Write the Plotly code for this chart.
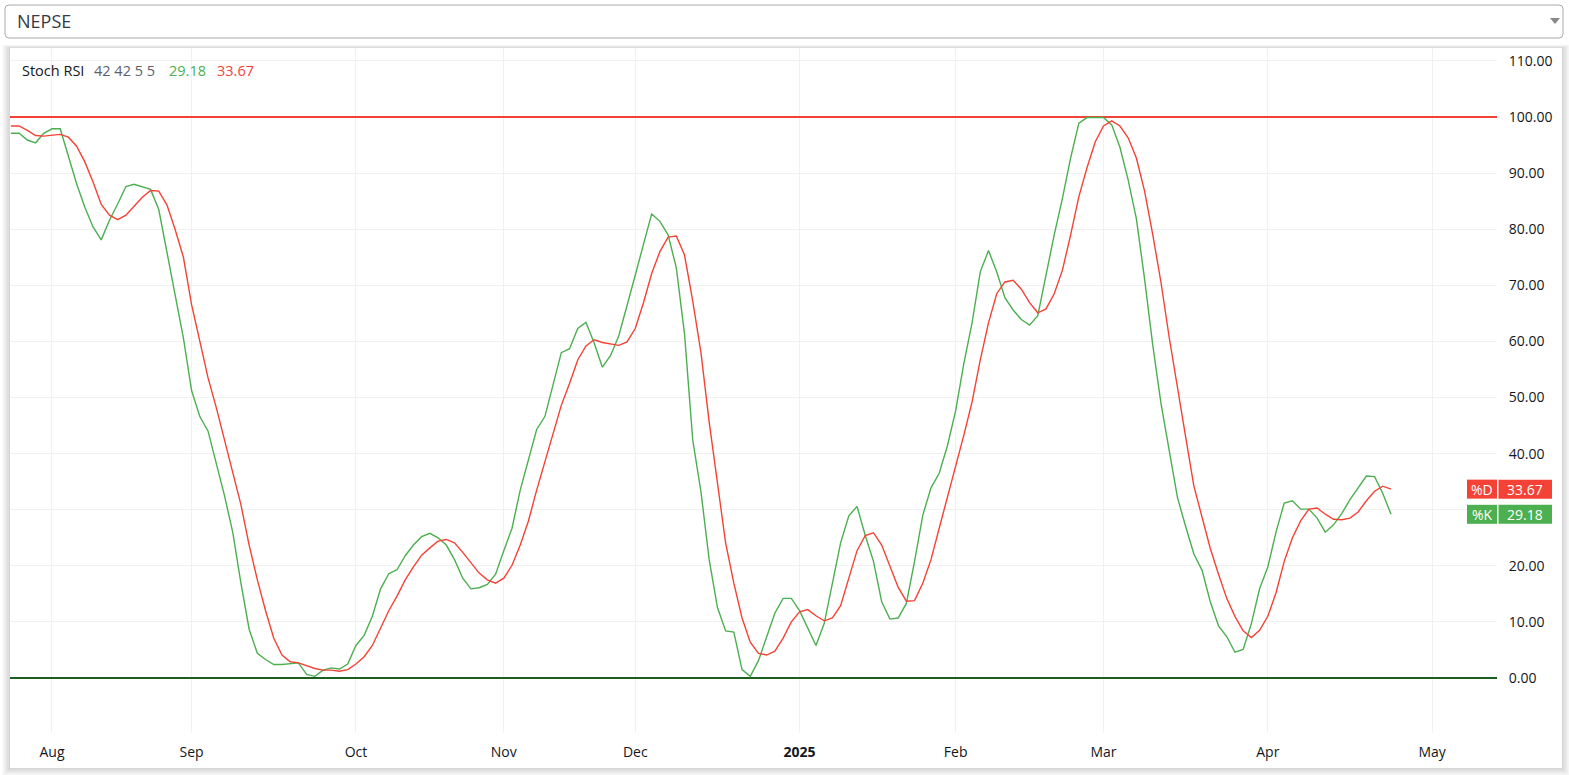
import plotly.graph_objects as go

# ---------------- data ----------------
symbol = "NEPSE"
indicator_name = "Stoch RSI"
indicator_params = "42 42 5 5"

k_values = [
    97.1, 97.1, 95.9, 95.4, 97.1, 97.9, 97.9, 93.0, 88.1, 83.9,
    80.4, 78.1, 81.6, 84.5, 87.6, 88.0, 87.5, 87.1, 83.5, 75.7,
    68.5, 60.6, 51.2, 46.6, 44.0, 38.4, 32.5, 26.0, 16.9, 8.7,
    4.4, 3.3, 2.4, 2.4, 2.5, 2.7, 0.65, 0.3, 1.4, 1.8,
    1.6, 2.5, 5.8, 7.6, 11.0, 15.9, 18.6, 19.3, 21.8, 23.7,
    25.2, 25.8, 25.0, 23.7, 21.1, 17.8, 15.9, 16.1, 16.7, 18.5,
    22.7, 26.7, 33.5, 39.1, 44.3, 46.6, 52.2, 58.0, 58.7, 62.3,
    63.4, 59.7, 55.4, 57.5, 61.0, 66.2, 71.8, 77.3, 82.7, 81.4,
    79.0, 73.1, 61.3, 42.4, 33.2, 21.1, 12.6, 8.4, 8.2, 1.5,
    0.3, 3.1, 7.4, 11.6, 14.2, 14.2, 12.0, 9.0, 5.8, 9.7,
    16.9, 24.1, 28.9, 30.6, 25.4, 20.8, 13.6, 10.5, 10.7, 13.3,
    20.8, 29.0, 33.9, 36.5, 41.4, 47.6, 56.1, 63.3, 72.4, 76.2,
    72.4, 67.8, 65.6, 63.9, 62.9, 64.6, 71.8, 79.0, 85.5, 92.7,
    98.9, 99.9, 99.9, 99.9, 98.6, 94.6, 88.8, 81.9, 71.1, 59.3,
    48.9, 40.4, 32.2, 27.0, 22.1, 19.2, 13.6, 9.3, 7.4, 4.6,
    5.1, 9.7, 15.9, 19.8, 26.0, 31.2, 31.6, 30.1, 30.1, 28.5,
    26.0, 27.3, 29.3, 31.8, 33.9, 36.0, 35.9, 32.9, 29.18,
]

d_values = [
    98.4, 98.4, 97.6, 96.7, 96.6, 96.7, 96.9, 96.4, 94.8, 92.0,
    88.4, 84.4, 82.5, 81.7, 82.5, 84.1, 85.7, 86.9, 86.8, 84.3,
    79.9, 75.0, 66.5, 60.0, 53.5, 48.2, 42.4, 36.5, 30.9, 23.7,
    17.5, 12.0, 7.1, 4.1, 2.9, 2.7, 2.2, 1.7, 1.4, 1.4,
    1.2, 1.5, 2.5, 3.8, 5.8, 9.0, 12.0, 14.6, 17.5, 19.8,
    21.9, 23.2, 24.4, 24.7, 24.1, 22.4, 20.5, 18.7, 17.5, 16.9,
    17.8, 20.1, 23.7, 28.0, 33.5, 38.4, 43.7, 48.6, 52.5, 56.7,
    59.2, 60.3, 59.8, 59.5, 59.3, 59.9, 62.3, 66.9, 72.1, 76.0,
    78.6, 78.8, 75.4, 67.2, 58.0, 45.6, 35.2, 24.1, 16.9, 10.7,
    6.4, 4.4, 4.1, 4.8, 7.1, 10.0, 11.8, 12.2, 11.1, 10.2,
    10.7, 12.9, 17.8, 22.7, 25.4, 25.9, 23.7, 20.1, 16.2, 13.7,
    13.8, 16.9, 21.1, 26.7, 32.2, 37.5, 43.3, 49.2, 56.7, 63.3,
    68.5, 70.6, 70.9, 69.3, 66.9, 65.1, 65.8, 68.5, 72.7, 79.0,
    85.8, 91.0, 95.6, 98.4, 99.3, 98.4, 96.3, 92.7, 86.8, 79.0,
    70.5, 60.7, 51.5, 43.0, 34.2, 28.6, 23.1, 18.5, 14.2, 11.0,
    8.4, 7.2, 8.5, 11.0, 15.2, 20.8, 25.0, 28.0, 30.1, 30.3,
    29.2, 28.3, 28.2, 28.5, 29.6, 31.6, 33.3, 34.2, 33.67,
]

month_labels = ["Aug", "Sep", "Oct", "Nov", "Dec", "<b>2025</b>", "Feb", "Mar", "Apr", "May"]
month_positions = [5, 22, 42, 60, 76, 96, 115, 133, 153, 173]

upper_band = 100
lower_band = 0
y_ticks = [0, 10, 20, 30, 40, 50, 60, 70, 80, 90, 100, 110]
hidden_ticks = [30]   # covered by the price-scale labels in the original

x_range = [-0.11, 180.9]
y_range = [-9.8, 112.3]

# ---------------- styling ----------------
GREEN = "#4CAF50"
RED = "#F44336"
DARK_GREEN = "#1B5E20"
GRID = "#F1F1F1"
TEXT = "#131722"
FONT = "Open Sans"

W, H = 1569, 775
L, R, T, B = 10, 1497, 48, 733   # plot area in pixels


def px(x):
    return (x - L) / (R - L)


def py(y):
    return (B - y) / (B - T)


def rrect(x0, y0, x1, y1, r):
    return (f"M {px(x0 + r)} {py(y0)} L {px(x1 - r)} {py(y0)} "
            f"Q {px(x1)} {py(y0)} {px(x1)} {py(y0 + r)} "
            f"L {px(x1)} {py(y1 - r)} Q {px(x1)} {py(y1)} {px(x1 - r)} {py(y1)} "
            f"L {px(x0 + r)} {py(y1)} Q {px(x0)} {py(y1)} {px(x0)} {py(y1 - r)} "
            f"L {px(x0)} {py(y0 + r)} Q {px(x0)} {py(y0)} {px(x0 + r)} {py(y0)} Z")


x_idx = list(range(len(k_values)))
y_ticktext = ["" if v in hidden_ticks else f"{v:.2f}" for v in y_ticks]

fig = go.Figure()
# band levels (drawn as traces so they sit above the gridlines)
fig.add_trace(go.Scatter(x=x_range, y=[upper_band, upper_band], mode="lines",
                         line=dict(color=RED, width=2), hoverinfo="skip", cliponaxis=False))
fig.add_trace(go.Scatter(x=x_range, y=[lower_band, lower_band], mode="lines",
                         line=dict(color=DARK_GREEN, width=2), hoverinfo="skip", cliponaxis=False))
fig.add_trace(go.Scatter(x=x_idx, y=k_values, mode="lines", name="%K",
                         line=dict(color=GREEN, width=1.4), hoverinfo="skip"))
fig.add_trace(go.Scatter(x=x_idx, y=d_values, mode="lines", name="%D",
                         line=dict(color=RED, width=1.4), hoverinfo="skip"))

shapes = []
# container shadow
for k in range(1, 9):
    shapes.append(dict(type="rect", xref="paper", yref="paper", layer="below",
                       x0=px(10 - k), x1=px(1562 + k), y0=py(768 + k), y1=py(48 - k * 0.4),
                       line=dict(width=0), fillcolor="rgba(0,0,0,0.018)"))
# container
shapes.append(dict(type="rect", xref="paper", yref="paper", layer="below",
                   x0=px(10), x1=px(1562), y0=py(768), y1=py(48),
                   line=dict(width=0), fillcolor="white"))
# dropdown
shapes.append(dict(type="path", xref="paper", yref="paper", layer="above",
                   path=rrect(5, 5, 1563, 38, 4), fillcolor="white",
                   line=dict(color="#AAAAAA", width=1)))
shapes.append(dict(type="path", xref="paper", yref="paper", layer="above",
                   path=f"M {px(1550)} {py(18)} L {px(1560)} {py(18)} L {px(1555)} {py(24)} Z",
                   fillcolor="#888888", line=dict(width=0)))

# price-scale labels
last_k = k_values[-1]
last_d = d_values[-1]
half = 9.5 / ((B - T) / (y_range[1] - y_range[0]))
for val, col in [(last_d, RED), (last_k, GREEN)]:
    shapes.append(dict(type="rect", xref="paper", yref="y", layer="above",
                       x0=px(1467), x1=px(1497), y0=val - half, y1=val + half,
                       fillcolor=col, line=dict(width=0)))
    shapes.append(dict(type="rect", xref="paper", yref="y", layer="above",
                       x0=px(1498.5), x1=px(1552), y0=val - half, y1=val + half,
                       fillcolor=col, line=dict(width=0)))

annotations = [
    dict(text=symbol, xref="paper", yref="paper", x=px(15), y=py(21.5),
         xanchor="left", yanchor="middle", showarrow=False,
         font=dict(family=FONT, size=18, color="#333A45")),
    dict(text=indicator_name, xref="paper", yref="paper", x=px(20), y=py(70),
         xanchor="left", yanchor="middle", showarrow=False,
         font=dict(family=FONT, size=14.5, color=TEXT)),
    dict(text=indicator_params, xref="paper", yref="paper", x=px(92), y=py(70),
         xanchor="left", yanchor="middle", showarrow=False,
         font=dict(family=FONT, size=14.5, color="#5D606B")),
    dict(text=f"{last_k:.2f}", xref="paper", yref="paper", x=px(167), y=py(70),
         xanchor="left", yanchor="middle", showarrow=False,
         font=dict(family=FONT, size=14.5, color=GREEN)),
    dict(text=f"{last_d:.2f}", xref="paper", yref="paper", x=px(215), y=py(70),
         xanchor="left", yanchor="middle", showarrow=False,
         font=dict(family=FONT, size=14.5, color=RED)),
]
for val, name in [(last_d, "%D"), (last_k, "%K")]:
    annotations.append(dict(text=name, xref="paper", yref="y", x=px(1482), y=val,
                            xanchor="center", yanchor="middle", showarrow=False,
                            height=18, borderpad=0,
                            font=dict(family=FONT, size=14, color="white")))
    annotations.append(dict(text=f"{val:.2f}", xref="paper", yref="y", x=px(1525), y=val,
                            xanchor="center", yanchor="middle", showarrow=False,
                            height=18, borderpad=0,
                            font=dict(family=FONT, size=14, color="white")))

fig.update_layout(
    width=W, height=H,
    margin=dict(l=L, r=W - R, t=T, b=H - B, pad=0),
    paper_bgcolor="white",
    plot_bgcolor="rgba(0,0,0,0)",
    showlegend=False,
    shapes=shapes,
    annotations=annotations,
    xaxis=dict(range=x_range, tickmode="array", tickvals=month_positions,
               ticktext=month_labels, showgrid=True, gridcolor=GRID, gridwidth=1,
               zeroline=False, showline=False, ticks="outside", ticklen=6,
               tickcolor="rgba(0,0,0,0)",
               tickfont=dict(family=FONT, size=14, color=TEXT), fixedrange=True),
    yaxis=dict(range=y_range, side="right", tickmode="array", tickvals=y_ticks,
               ticktext=y_ticktext, showgrid=True, gridcolor=GRID, gridwidth=1,
               zeroline=False, showline=False, ticks="outside", ticklen=8,
               tickcolor="rgba(0,0,0,0)",
               tickfont=dict(family=FONT, size=14, color=TEXT), fixedrange=True),
)

fig.write_html(
    "out.html",
    config={"displayModeBar": False},
    post_script="document.body.style.margin='0';document.body.style.overflow='hidden';",
)
